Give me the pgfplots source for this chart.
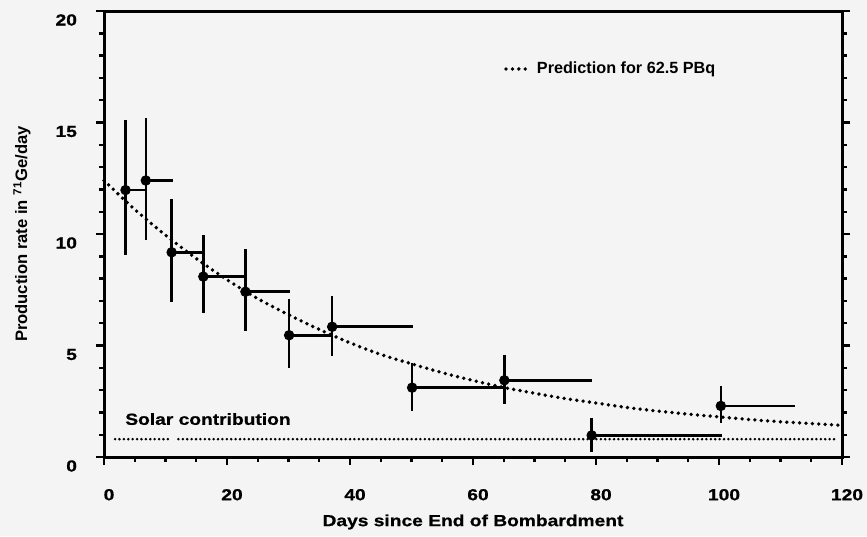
\documentclass[border=0pt]{standalone}
\usepackage{pgfplots}
\pgfplotsset{compat=1.18}
\usepackage{pgfplotstable}
\usepackage{fontspec}
\setmainfont{Liberation Sans}
\newfontfamily\wide[FakeStretch=1.2, FakeBold=0.8]{Liberation Sans}
\definecolor{paper}{HTML}{F4F4F4}

% measured points: day, rate, interval to next run (x plus), upper and lower error
\pgfplotstableread{
x      y      xp    yp    ym
3.5    11.97  3.2   3.13  2.91
6.8    12.40  4.4   2.80  2.67
11.0   9.18   5.0   2.38  2.21
16.15  8.09   6.95  1.87  1.65
23.0   7.41   7.2   1.92  1.75
30.1   5.46   6.9   1.63  1.48
37.1   5.84   13.2  1.39  1.31
50.1   3.11   14.8  1.12  1.05
65.1   3.44   14.3  1.13  1.06
79.3   0.97   21.2  0.76  0.73
100.3  2.29   12.0  0.89  0.75
}\measured

% prediction for 62.5 PBq
\pgfplotstableread{
x    y
0    12.40
5    11.10
10   9.95
15   8.90
20   7.95
25   7.10
30   6.38
35   5.72
40   5.12
45   4.60
50   4.18
55   3.78
60   3.43
65   3.12
70   2.86
75   2.62
80   2.42
85   2.22
90   2.06
95   1.92
100  1.80
105  1.68
110  1.58
115  1.50
120  1.42
}\prediction

\begin{document}
\begin{tikzpicture}
\path[use as bounding box, fill=paper] (-52pt,-39.5pt) rectangle (381.5pt,228.5pt);
\begin{axis}[
  at={(0,0)}, anchor=south west,
  scale only axis, width=369pt, height=223pt,
  xmin=0, xmax=120, ymin=0, ymax=20,
  xtick={0,20,...,120}, ytick={0,5,...,20},
  minor x tick num=3, minor y tick num=4,
  xtick pos=lower, ytick pos=both, yticklabel pos=left,
  tick align=outside,
  major tick length=4pt, minor tick length=2.5pt,
  axis line style={line width=1.5pt},
  tick style={line width=1.2pt, black},
  /pgf/number format/assume math mode=true,
  ticklabel style={font=\wide\bfseries\fontsize{8}{9}\selectfont},
  xticklabel style={yshift=-8.5pt, xshift=2.5pt},
  yticklabel style={xshift=-6pt, yshift=-4.5pt},
  xlabel={Days since End of Bombardment},
  ylabel={Production rate in \textsuperscript{71}Ge/day},
  xlabel style={font=\wide\bfseries\fontsize{8}{9}\selectfont,
    at={(axis description cs:0.5,0)}, anchor=center, yshift=-32.5pt},
  ylabel style={font=\bfseries\fontsize{8.3}{9}\selectfont,
    at={(axis description cs:0,0.5)}, anchor=center, yshift=41pt},
  legend style={at={(axis cs:65,17.4)}, anchor=west, draw=none, fill=none,
    font=\bfseries\fontsize{8.1}{9}\selectfont, inner sep=0pt,
    legend cell align=left},
  legend image code/.code={\draw[#1] (0pt,0pt) -- (12.5pt,0pt);},
  clip=false,
]
\addplot[black, line width=1.9pt, line cap=round, dash pattern=on 0pt off 3.2pt, smooth]
  table[x=x, y=y] {\prediction};
\addlegendentry{Prediction for 62.5 PBq}

\addplot[black, line width=1.4pt, line cap=round, dash pattern=on 0pt off 2.2pt, forget plot]
  coordinates {(1.8,0.8) (10.5,0.8)};
\addplot[black, line width=1.4pt, line cap=round, dash pattern=on 0pt off 2.2pt, forget plot]
  coordinates {(12.1,0.8) (119,0.8)};

\addplot[black, only marks, mark=*, mark size=2.4pt, forget plot,
  error bars/.cd,
    x dir=plus, x explicit,
    y dir=both, y explicit,
    error mark=none,
    error bar style={line width=1.3pt, black}]
  table[x=x, y=y, x error plus=xp, y error plus=yp, y error minus=ym] {\measured};

\node[anchor=west, font=\wide\bfseries\fontsize{8}{9}\selectfont, inner sep=0pt]
  at (axis cs:3.4,1.7) {Solar contribution};
\end{axis}
\end{tikzpicture}
\end{document}
